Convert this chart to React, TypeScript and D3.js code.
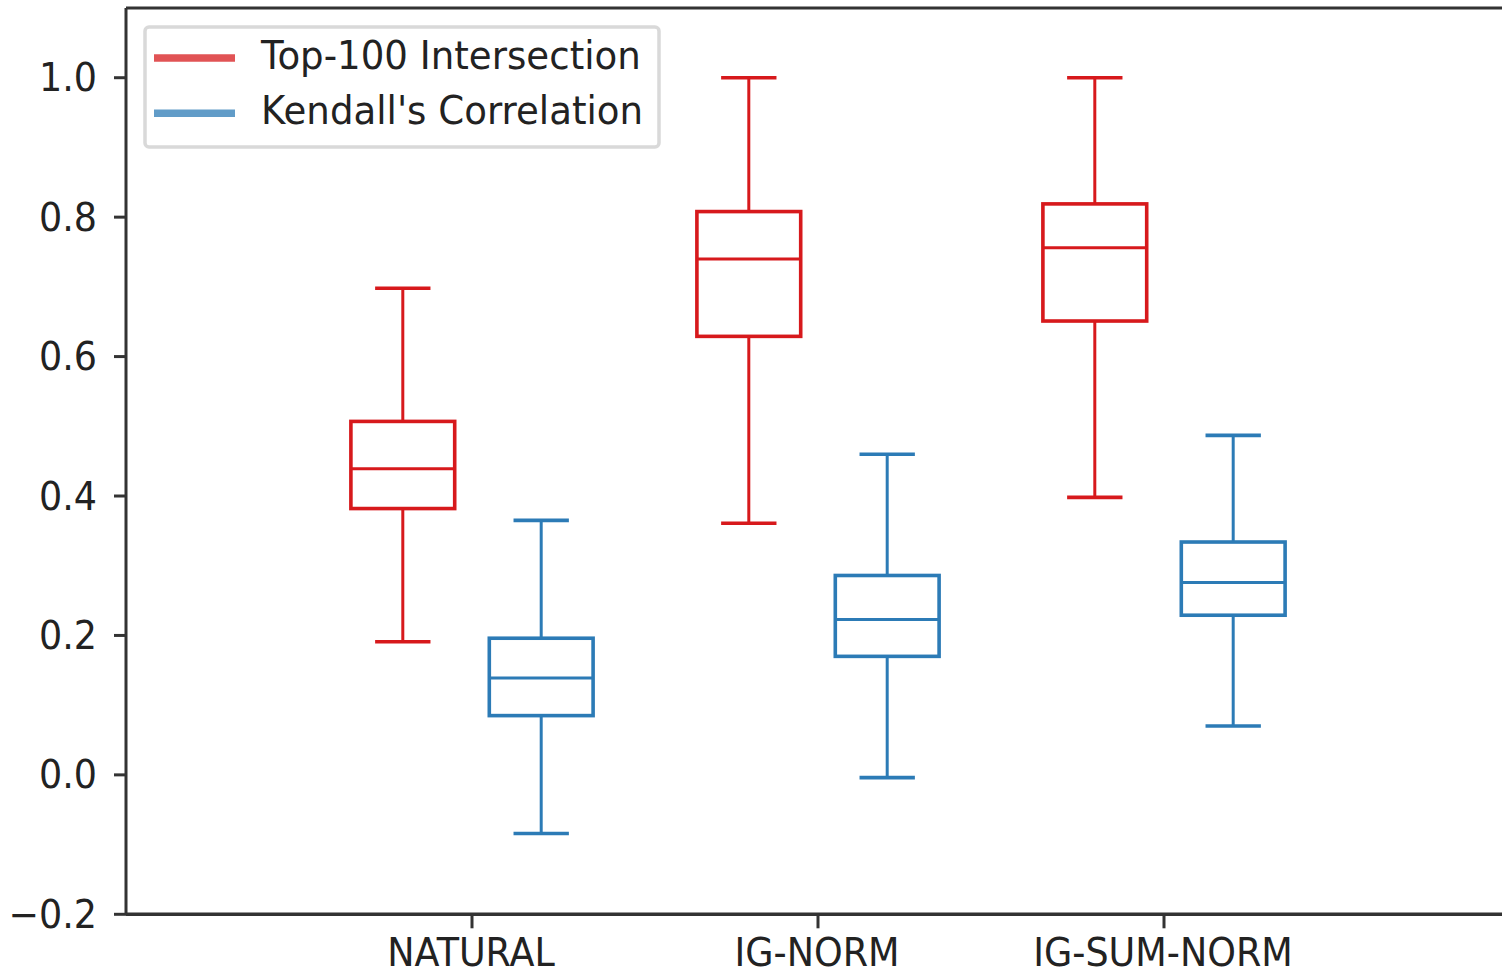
import React, { useEffect, useRef } from 'react';
import * as d3 from 'd3';

// methods on the x axis
const categories = ['NATURAL', 'IG-NORM', 'IG-SUM-NORM'];

// box stats per method: [whiskerLow, q1, median, q3, whiskerHigh]
const topIntersection = [
  [0.191, 0.382, 0.439, 0.507, 0.698],
  [0.361, 0.629, 0.740, 0.808, 1.0],
  [0.398, 0.651, 0.756, 0.819, 1.0],
];
const kendallCorr = [
  [-0.084, 0.085, 0.139, 0.196, 0.365],
  [-0.004, 0.170, 0.223, 0.286, 0.460],
  [0.070, 0.229, 0.276, 0.334, 0.487],
];

const yTicks = [-0.2, 0.0, 0.2, 0.4, 0.6, 0.8, 1.0];
const seriesNames = ['Top-100 Intersection', "Kendall's Correlation"];
const seriesColors = ['#d7191c', '#2c7bb6'];

const W = 1502;
const H = 972;
const FONT = '"DejaVu Sans", sans-serif';
const FS = 36.5;
const STRETCH = 'scale(1,1.09)';

export default function App() {
  const ref = useRef<SVGSVGElement | null>(null);

  useEffect(() => {
    const svg = d3.select(ref.current);
    svg.selectAll('*').remove();

    const left = 126, top = 8, bottom = 914.3, right = 1510;

    const x = d3.scaleLinear().domain([0, 4]).range([left, right]);
    const y = d3.scaleLinear().domain([-0.2, 1.1]).range([bottom, top]);

    svg.append('rect').attr('width', W).attr('height', H).attr('fill', '#fff');

    const g = svg.append('g');

    //boxes
    const series = [topIntersection, kendallCorr];
    const offsets = [-0.2, 0.2];
    const boxW = 0.3;
    const capW = 0.16;

    series.forEach((data, si) => {
      const col = seriesColors[si];
      data.forEach((s, ci) => {
        const pos = ci + 1 + offsets[si];
        const cx = x(pos);
        const [lo, q1, med, q3, hi] = s;
        const bg = g.append('g').attr('stroke', col).attr('fill', 'none');
        // whiskers
        bg.append('line').attr('x1', cx).attr('x2', cx).attr('y1', y(q3)).attr('y2', y(hi)).attr('stroke-width', 3);
        bg.append('line').attr('x1', cx).attr('x2', cx).attr('y1', y(q1)).attr('y2', y(lo)).attr('stroke-width', 3);
        // caps
        [lo, hi].forEach(v => {
          bg.append('line')
            .attr('x1', x(pos - capW / 2)).attr('x2', x(pos + capW / 2))
            .attr('y1', y(v)).attr('y2', y(v))
            .attr('stroke-width', 3.6);
        });
        // box
        bg.append('rect')
          .attr('x', x(pos - boxW / 2))
          .attr('width', x(pos + boxW / 2) - x(pos - boxW / 2))
          .attr('y', y(q3))
          .attr('height', y(q1) - y(q3))
          .attr('stroke-width', 3.6);
        // median
        bg.append('line')
          .attr('x1', x(pos - boxW / 2)).attr('x2', x(pos + boxW / 2))
          .attr('y1', y(med)).attr('y2', y(med))
          .attr('stroke-width', 3);
      });
    });

    // spines
    const spine = '#333';
    svg.append('line').attr('x1', left).attr('x2', left).attr('y1', top).attr('y2', bottom)
      .attr('stroke', spine).attr('stroke-width', 3);
    svg.append('line').attr('x1', left).attr('x2', right).attr('y1', bottom).attr('y2', bottom)
      .attr('stroke', spine).attr('stroke-width', 3.5);
    svg.append('line').attr('x1', left).attr('x2', right).attr('y1', top).attr('y2', top)
      .attr('stroke', spine).attr('stroke-width', 3);

    // y ticks
    yTicks.forEach(t => {
      const yy = y(t);
      svg.append('line').attr('x1', left - 12).attr('x2', left).attr('y1', yy).attr('y2', yy)
        .attr('stroke', spine).attr('stroke-width', 3);
      svg.append('text')
        .attr('transform', `translate(${left - 29},${yy + 13.5}) ${STRETCH}`)
        .attr('text-anchor', 'end')
        .attr('font-family', FONT)
        .attr('font-size', FS)
        .attr('fill', '#222')
        .text(t < 0 ? '\u2212' + Math.abs(t).toFixed(1) : t.toFixed(1));
    });

    // x ticks (labels are clipped by the bottom edge, as in the original)
    categories.forEach((c, i) => {
      const xx = x(i + 1);
      svg.append('line').attr('x1', xx).attr('x2', xx).attr('y1', bottom).attr('y2', bottom + 14)
        .attr('stroke', spine).attr('stroke-width', 3);
      svg.append('text')
        .attr('transform', `translate(${xx - 1},${bottom + 52}) ${STRETCH}`)
        .attr('text-anchor', 'middle')
        .attr('font-family', FONT)
        .attr('font-size', FS)
        .attr('fill', '#222')
        .text(c);
    });

    // legend
    const lg = svg.append('g');
    lg.append('rect')
      .attr('x', 145).attr('y', 27).attr('width', 514).attr('height', 120)
      .attr('rx', 4)
      .attr('fill', '#fff').attr('fill-opacity', 0.8)
      .attr('stroke', '#d9d9d9').attr('stroke-width', 3.5);
    seriesNames.forEach((name, i) => {
      const ly = 58 + i * 55.3;
      lg.append('line')
        .attr('x1', 154).attr('x2', 235).attr('y1', ly).attr('y2', ly)
        .attr('stroke', seriesColors[i]).attr('stroke-opacity', 0.75).attr('stroke-width', 7.5);
      lg.append('text')
        .attr('transform', `translate(261,${ly + 11}) scale(1.018,1.09)`)
        .attr('font-family', FONT)
        .attr('font-size', FS)
        .attr('fill', '#222')
        .text(name);
    });
  }, []);

  return (
    <div style={{ position: 'absolute', left: 0, top: 0 }}>
      <svg ref={ref} width={W} height={H} style={{ display: 'block' }} />
    </div>
  );
}
